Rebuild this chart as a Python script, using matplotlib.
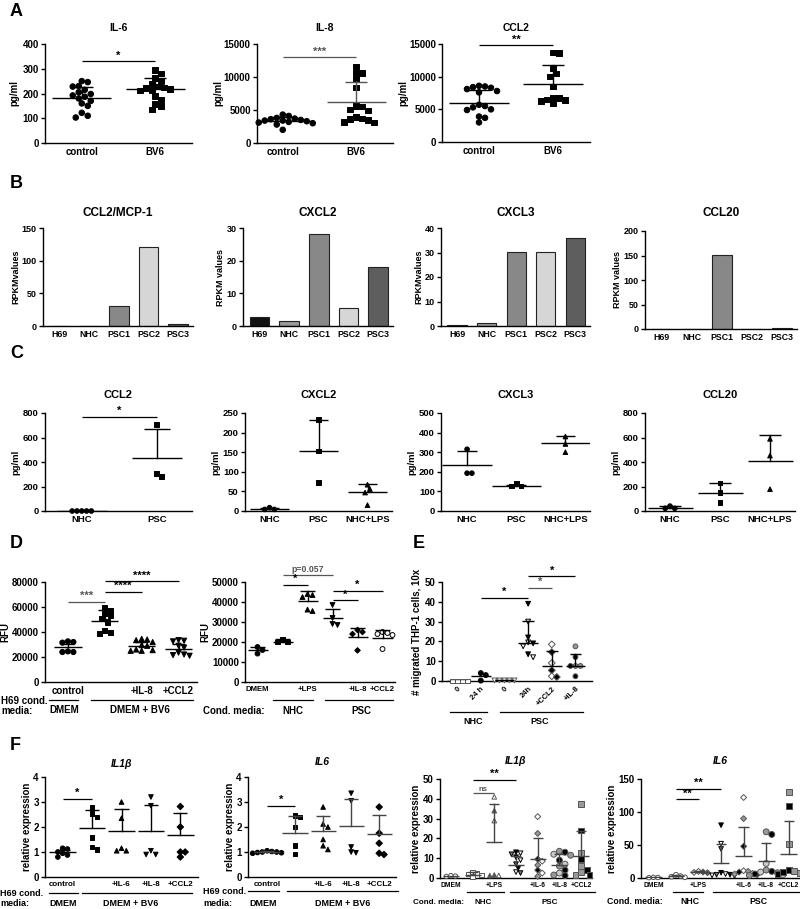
import numpy as np
import matplotlib
matplotlib.use('Agg')
import matplotlib.pyplot as plt
from matplotlib.lines import Line2D

# ---------------- data ----------------
# A: cytokines (pg/ml), H69 control vs BV6
a_labels = ['control', 'BV6']
il6_pts = [[250, 246, 230, 228, 215, 205, 198, 192, 187, 180, 170, 160, 150, 122, 110, 103],
           [295, 280, 262, 250, 240, 228, 225, 222, 218, 215, 212, 190, 175, 158, 150, 135]]
il6_mean = [180, 217]
il6_top = [225, 263]
il8_pts = [[4300, 4100, 3800, 3700, 3600, 3500, 3400, 3400, 3300, 3200, 3100, 3000, 2800, 2000],
           [11600, 10700, 10600, 9700, 8400, 5600, 5500, 5100, 4900, 3900, 3700, 3600, 3500, 3200, 3100]]
il8_mean = [3300, 6200]
il8_top = [3900, 9300]
ccl2_pts = [[8600, 8500, 8400, 8300, 8100, 7800, 7600, 5700, 5500, 5300, 5000, 4900, 3900, 3700, 3000],
            [13700, 13600, 11300, 10500, 10000, 8500, 6800, 6700, 6500, 6400, 6300, 5900]]
ccl2_mean = [6000, 8900]
ccl2_top = [7900, 11800]

# B: RPKM values
b_labels = ['H69', 'NHC', 'PSC1', 'PSC2', 'PSC3']
rpkm_ccl2 = [0, 0, 31, 121, 3]
rpkm_cxcl2 = [2.7, 1.5, 28.3, 5.5, 18.2]
rpkm_cxcl3 = [0.5, 1.2, 30.3, 30.3, 35.8]
rpkm_ccl20 = [0, 0, 152, 0.5, 2]

# C: secreted chemokines (pg/ml)
c_labels2 = ['NHC', 'PSC']
c_labels3 = ['NHC', 'PSC', 'NHC+LPS']
c_ccl2_pts = [[0, 0, 0, 0, 0], [705, 305, 280]]
c_ccl2_mean = [0, 430]
c_ccl2_top = [0, 670]
c_cxcl2_pts = [[8.5, 4, 4], [233, 153, 72], [67, 56, 47, 15]]
c_cxcl2_mean = [5.5, 153, 49]
c_cxcl2_top = [8, 233, 68]
c_cxcl3_pts = [[315, 193, 193], [140, 128, 128], [380, 342, 300]]
c_cxcl3_mean = [233, 130, 345]
c_cxcl3_top = [305, 135, 383]
c_ccl20_pts = [[40, 22, 22], [230, 150, 68], [589, 452, 178]]
c_ccl20_mean = [27, 148, 410]
c_ccl20_top = [41, 230, 620]

# D: RFU
d1_labels = ['control', '', '+IL-8', '+CCL2']
d1_pts = [[32500, 32000, 31500, 24500, 24000, 24000],
          [59500, 57500, 55000, 53000, 51000, 48000, 41000, 39500, 39000],
          [34500, 34000, 33500, 32000, 29500, 29000, 26000, 25500, 25000, 25000],
          [33500, 33000, 32500, 29000, 27500, 23500, 22000, 21500, 21000]]
d1_mean = [28000, 48800, 28500, 26400]
d1_top = [30500, 57300, 32000, 30700]
d2_labels = ['DMEM', '', '+LPS', '', '+IL-8', '+CCL2']
d2_pts = [[17500, 16000, 14200], [21500, 20000, 20000],
          [44000, 43500, 42500, 36200, 35500], [38500, 32000, 29000, 28500],
          [26000, 25000, 24000, 15800], [25000, 24500, 24000, 23500, 16500]]
d2_mean = [15800, 20000, 40500, 32200, 22500, 22200]
d2_top = [17500, 21500, 45500, 36500, 27200, 25800]

# E: migrated THP-1 cells
e_labels = ['0', '24 h', '0', '24h', '+CCL2', '+IL-8']
e_pts = [[0, 0, 0, 0], [4, 3, 0.2], [0.3, 0.3, 0.3, 0.3, 0.3],
         [39, 30, 22, 19.5, 19, 17.5, 13.5, 12], [18.5, 14.6, 9.1, 5.4, 2.4, 2],
         [17.5, 12.1, 7.6, 7.6, 7.6, 2.4]]
e_mean = [0, 2.4, 0.3, 19.2, 7.6, 7.6]
e_top = [0, 2.4, 0.3, 30.3, 15.2, 13.6]

# F: relative expression
f_labels = ['control', '', '+IL-6', '+IL-8', '+CCL2']
f1_pts = [[1.15, 1.12, 1.0, 0.95, 0.88, 0.8], [2.78, 2.55, 2.4, 1.58, 1.2, 1.1],
          [3.0, 2.35, 1.15, 1.05, 1.05], [3.2, 2.85, 1.05, 0.9, 0.9], [2.82, 2.0, 1.0, 1.0, 0.8]]
f1_mean = [1.0, 1.95, 1.84, 1.85, 1.7]
f1_top = [1.1, 2.7, 2.71, 2.88, 2.57]
f2_pts = [[1.05, 1.02, 1.0, 1.0, 0.98, 0.97, 0.95], [2.45, 2.4, 2.0, 1.25, 0.92],
          [2.8, 2.12, 2.0, 1.5, 1.25, 1.1], [3.35, 3.05, 1.2, 1.0, 0.97], [2.8, 1.75, 1.35, 0.95, 0.9]]
f2_mean = [1.0, 1.77, 1.84, 2.04, 1.72]
f2_top = [1.05, 2.44, 2.46, 3.14, 2.48]
g_labels = ['DMEM', '', '+LPS', '', '+IL-6', '+IL-8', '+CCL2']
f3_pts = [[1.2, 1.0, 0.8], [3.0, 2.5, 2.0, 1.5, 0.8], [41, 34, 29, 1.5, 1.3, 1.2],
          [13, 12.5, 12, 10.5, 9, 7, 5, 3, 2.5], [31, 22.5, 9.5, 8.5, 6.5, 4, 2.5, 0.8],
          [13.5, 13, 12, 11.5, 9, 7, 6, 4, 2.5, 1.5, 1.2], [37.5, 24, 12.5, 9.5, 6, 4, 3, 1.5, 1.5]]
f3_mean = [1.0, 1.7, 18.3, 6.7, 9.6, 6.4, 10.9]
f3_top = [1.0, 2.9, 37.2, 10.9, 20.1, 12.1, 23.5]
f4_pts = [[1, 0.8, 0.5], [5, 3, 2, 1], [10, 9, 8.5, 8], [80, 52, 44, 8, 6, 5, 5, 4, 3],
          [122, 90, 48, 11, 10, 9, 7, 6, 5], [70, 66, 22, 12, 10, 9, 8, 6, 5, 4],
          [130, 109, 52, 12, 10, 9, 7, 6, 5]]
f4_mean = [0.8, 2.5, 9, 23, 34, 25.4, 36.6]
f4_top = [0.8, 5, 10, 51, 77, 53, 86]

# ---------------- helpers ----------------
plt.rcParams['font.family'] = ['Liberation Sans', 'DejaVu Sans']
plt.rcParams['font.weight'] = 'bold'
plt.rcParams['axes.labelweight'] = 'bold'
plt.rcParams['axes.linewidth'] = 1.0

W, H = 800, 909
fig = plt.figure(figsize=(W / 100, H / 100), dpi=100)


def ax_px(l, t, r, b):
    ax = fig.add_axes([l / W, 1 - b / H, (r - l) / W, (b - t) / H])
    for s in ('top', 'right'):
        ax.spines[s].set_visible(False)
    ax.tick_params(axis='y', direction='out', length=3, width=1, pad=1.5)
    ax.tick_params(axis='x', length=0, pad=3)
    return ax


def ftext(x, y, s, **kw):
    kw.setdefault('fontweight', 'bold')
    fig.text(x / W, 1 - y / H, s, **kw)


def fline(x1, x2, y, color='k', lw=0.9):
    fig.add_artist(Line2D([x1 / W, x2 / W], [1 - y / H, 1 - y / H], color=color, lw=lw))


def title(ax, y, s, fs, **kw):
    p = ax.get_position()
    ftext((p.x0 + p.width / 2) * W, y, s, fontsize=fs, ha='center', va='center', **kw)


def setup(ax, xlim, ylim, yticks, labels, ylabel, fs=6.5, yfs=6.5, lp=2):
    ax.set_xlim(xlim)
    ax.set_ylim(ylim)
    ax.set_yticks(yticks)
    ax.set_xticks(range(len(labels)))
    ax.set_xticklabels(labels, fontsize=fs, fontweight='bold')
    ax.tick_params(axis='y', labelsize=yfs)
    ax.set_ylabel(ylabel, fontsize=yfs, labelpad=lp)


def swarm_offsets(ax, values, d_px):
    p = ax.get_position()
    x0, x1 = ax.get_xlim()
    y0, y1 = ax.get_ylim()
    sx = p.width * W / (x1 - x0)
    sy = p.height * H / (y1 - y0)
    step = d_px * 0.5
    cands = [0.0] + [sg * k * step for k in range(1, 40) for sg in (1, -1)]
    placed = []
    offs = np.zeros(len(values))
    for i in np.argsort(values)[::-1]:
        y = values[i] * sy
        for c in cands:
            if all((c - px) ** 2 + (y - py) ** 2 >= (d_px * 0.95) ** 2 for px, py in placed):
                break
        placed.append((c, y))
        offs[i] = c / sx
    return offs


def dots(ax, pts, means, tops, markers, fcs, ecs='k', size=14, d_px=5.5, mw=0.38, cw=0.16,
         lw=1.0, lc='k'):
    for i, vals in enumerate(pts):
        vals = np.asarray(vals, float)
        offs = swarm_offsets(ax, vals, d_px if np.isscalar(d_px) else d_px[i])
        fc = fcs[i] if isinstance(fcs, list) else fcs
        fc = [fc] if isinstance(fc, str) else list(fc)
        fc = [fc[k % len(fc)] for k in range(len(vals))]
        ec = ecs[i] if isinstance(ecs, list) else ecs
        sz = size[i] if isinstance(size, list) else size
        ax.scatter(i + offs, vals, marker=markers[i], s=sz, c=fc, edgecolors=ec,
                   linewidths=0.7, zorder=3, clip_on=False)
        col = lc[i] if isinstance(lc, list) else lc
        ax.plot([i - mw, i + mw], [means[i]] * 2, color=col, lw=lw, zorder=4, solid_capstyle='butt')
        if tops[i] > means[i]:
            ax.plot([i, i], [means[i], tops[i]], color=col, lw=lw, zorder=4)
            ax.plot([i - cw, i + cw], [tops[i]] * 2, color=col, lw=lw, zorder=4, solid_capstyle='butt')


def sig(ax, x1, x2, y, txt, color='k', fs=8, lw=0.9):
    ax.plot([x1, x2], [y, y], color=color, lw=lw, clip_on=False, solid_capstyle='butt')
    ax.annotate(txt, ((x1 + x2) / 2, y), xytext=(0, 0.5), textcoords='offset points',
                ha='center', va='bottom', fontsize=fs, color=color, annotation_clip=False)


# ---------------- A ----------------
ftext(10, 12, 'A', fontsize=13, va='center')
ax = ax_px(45, 44, 192, 143)
setup(ax, (-0.5, 1.5), (0, 400), [0, 100, 200, 300, 400], a_labels, 'pg/ml', fs=7, yfs=7)
dots(ax, il6_pts, il6_mean, il6_top, ['o', 's'], 'k', size=16, d_px=6, mw=0.4, cw=0.15)
sig(ax, 0, 1, 330, '*')
title(ax, 28, 'IL-6', 7.5)

ax = ax_px(257, 44, 393, 143)
setup(ax, (-0.35, 1.5), (0, 15000), [0, 5000, 10000, 15000], a_labels, 'pg/ml', fs=7, yfs=7, lp=0)
dots(ax, il8_pts, il8_mean, il8_top, ['o', 's'], 'k', size=16, d_px=6, mw=0.4, cw=0.15,
     lc=['k', '#555555'])
sig(ax, 0, 1, 13000, '***', color='#555555')
title(ax, 28, 'IL-8', 7.5)

ax = ax_px(442, 44, 590, 142)
setup(ax, (-0.5, 1.5), (0, 15000), [0, 5000, 10000, 15000], a_labels, 'pg/ml', fs=7, yfs=7, lp=0)
dots(ax, ccl2_pts, ccl2_mean, ccl2_top, ['o', 's'], 'k', size=16, d_px=6, mw=0.4, cw=0.15)
sig(ax, 0, 1, 14800, '**')
title(ax, 28, 'CCL2', 7.5)

# ---------------- B ----------------
ftext(10, 184, 'B', fontsize=13, va='center')
bar_cols = ['#111111', '#9a9a9a', '#888888', '#d6d6d6', '#5e5e5e']
b_specs = [((43, 228, 193, 326), rpkm_ccl2, (0, 150), [0, 50, 100, 150], 'RPKMvalues', 'CCL2/MCP-1'),
           ((243, 228, 393, 326), rpkm_cxcl2, (0, 30), [0, 10, 20, 30], 'RPKM values', 'CXCL2'),
           ((441, 228, 590, 326), rpkm_cxcl3, (0, 40), [0, 10, 20, 30, 40], 'RPKMvalues', 'CXCL3'),
           ((645, 231, 797, 329), rpkm_ccl20, (0, 200), [0, 50, 100, 150, 200], 'RPKM values', 'CCL20')]
for box, vals, yl, yt, ylab, ttl in b_specs:
    ax = ax_px(*box)
    setup(ax, (-0.55, 4.5), yl, yt, b_labels, ylab, fs=6.3, yfs=6.5, lp=1)
    ax.bar(range(len(vals)), vals, width=0.66, color=bar_cols, edgecolor='#222222', linewidth=0.8)
    title(ax, 213, ttl, 8.5)

# ---------------- C ----------------
ftext(10, 353, 'C', fontsize=13, va='center')
ax = ax_px(45, 413, 192, 511)
setup(ax, (-0.49, 1.47), (0, 800), [0, 200, 400, 600, 800], c_labels2, 'pg/ml', fs=6.8, yfs=6.8)
dots(ax, c_ccl2_pts, c_ccl2_mean, c_ccl2_top, ['o', 's'], 'k', size=11, d_px=4.8, mw=0.33, cw=0.17)
sig(ax, 0, 1, 770, '*')
title(ax, 395, 'CCL2', 8)

ax = ax_px(245, 413, 392, 511)
setup(ax, (-0.5, 2.5), (0, 250), [0, 50, 100, 150, 200, 250], c_labels3, 'pg/ml', fs=6.8, yfs=6.8)
dots(ax, c_cxcl2_pts, c_cxcl2_mean, c_cxcl2_top, ['o', 's', '^'], 'k', size=11, d_px=4.8,
     mw=0.4, cw=0.2)
title(ax, 395, 'CXCL2', 8)

ax = ax_px(441, 413, 590, 511)
setup(ax, (-0.53, 2.5), (0, 500), [0, 100, 200, 300, 400, 500], c_labels3, 'pg/ml', fs=6.8, yfs=6.8)
dots(ax, c_cxcl3_pts, c_cxcl3_mean, c_cxcl3_top, ['o', 's', '^'], 'k', size=11, d_px=4.8,
     mw=0.5, cw=0.2)
title(ax, 395, 'CXCL3', 8)

ax = ax_px(645, 413, 795, 511)
setup(ax, (-0.5, 2.5), (0, 800), [0, 200, 400, 600, 800], c_labels3, 'pg/ml', fs=6.8, yfs=6.8)
dots(ax, c_ccl20_pts, c_ccl20_mean, c_ccl20_top, ['o', 's', '^'], 'k', size=11, d_px=4.8,
     mw=0.45, cw=0.22)
title(ax, 395, 'CCL20', 8)

# ---------------- D ----------------
ftext(10, 543, 'D', fontsize=13, va='center')
ax = ax_px(45, 582, 197, 682)
setup(ax, (-0.62, 3.5), (0, 80000), [0, 20000, 40000, 60000, 80000], d1_labels, 'RFU', fs=7, yfs=7, lp=1)
dots(ax, d1_pts, d1_mean, d1_top, ['o', 's', '^', 'v'], 'k', size=14, d_px=5.5, mw=0.37, cw=0.17)
sig(ax, 0, 1, 64000, '***', color='#555555')
sig(ax, 1, 2, 72000, '****')
sig(ax, 1, 3, 80500, '****')
fline(49, 78, 700)
fline(91, 193, 700)
ftext(1, 701, 'H69 cond.', fontsize=7, va='center')
ftext(1, 711, 'media:', fontsize=7, va='center')
ftext(64, 710, 'DMEM', fontsize=7, ha='center', va='center')
ftext(140, 710, 'DMEM + BV6', fontsize=7, ha='center', va='center')

ax = ax_px(245, 582, 395, 682)
setup(ax, (-0.5, 5.5), (0, 50000), [0, 10000, 20000, 30000, 40000, 50000], d2_labels, 'RFU',
      fs=5.6, yfs=7, lp=1)
dots(ax, d2_pts, d2_mean, d2_top, ['o', 's', '^', 'v', 'D', 'o'],
     ['k', 'k', 'k', 'k', 'k', 'w'], size=[12, 12, 12, 12, 8, 12], d_px=5, mw=0.4, cw=0.3)
sig(ax, 1, 3, 53700, 'p=0.057', color='#555555', fs=6.3)
sig(ax, 1, 2, 48700, '*')
sig(ax, 3, 5, 45500, '*')
sig(ax, 3, 4, 40800, '*')
fline(273, 313, 700)
fline(325, 393, 700)
ftext(203, 711, 'Cond. media:', fontsize=7, va='center')
ftext(293, 711, 'NHC', fontsize=7, ha='center', va='center')
ftext(361, 711, 'PSC', fontsize=7, ha='center', va='center')

# ---------------- E ----------------
ftext(413, 543, 'E', fontsize=13, va='center')
ax = ax_px(442, 582, 592, 681)
setup(ax, (-0.64, 5.7), (0, 50), [0, 10, 20, 30, 40, 50], e_labels, '# migrated THP-1 cells, 10x',
      fs=5.5, yfs=7, lp=2)
for lab in ax.get_xticklabels():
    lab.set_rotation(45)
    lab.set_ha('right')
    lab.set_rotation_mode('anchor')
dots(ax, e_pts, e_mean, e_top, ['s', 'o', 'v', 'v', 'D', 'o'],
     ['w', 'k', 'w', ['k', 'w', 'k', 'w'], ['w', 'k', 'w', 'k'], ['#999999', 'k']],
     ecs=['#555555', 'k', '#555555', 'k', '#555555', '#555555'],
     size=12, d_px=5, mw=0.42, cw=0.25)
sig(ax, 1, 3, 42, '*')
sig(ax, 3, 4, 47, '*', color='#555555')
sig(ax, 3, 5, 53, '*')
fline(450, 487, 712)
fline(500, 583, 712)
ftext(473, 722, 'NHC', fontsize=6.5, ha='center', va='center')
ftext(540, 722, 'PSC', fontsize=6.5, ha='center', va='center')

# ---------------- F ----------------
ftext(10, 745, 'F', fontsize=13, va='center')
ax = ax_px(45, 777, 198, 877)
setup(ax, (-0.6, 4.6), (0, 4), [0, 1, 2, 3, 4], f_labels, 'relative expression', fs=5.8, yfs=7, lp=1)
dots(ax, f1_pts, f1_mean, f1_top, ['o', 's', '^', 'v', 'D'], 'k', size=11, d_px=4.8,
     mw=0.45, cw=0.24)
sig(ax, 0, 1, 3.13, '*')
title(ax, 764, 'IL1β', 7.5, style='italic')
fline(49, 78, 893)
fline(82, 192, 893)
ftext(0, 893, 'H69 cond.', fontsize=6.5, va='center')
ftext(0, 903, 'media:', fontsize=6.5, va='center')
ftext(63, 903, 'DMEM', fontsize=6.5, ha='center', va='center')
ftext(131, 903, 'DMEM + BV6', fontsize=6.5, ha='center', va='center')

ax = ax_px(248, 777, 396, 877)
setup(ax, (-0.68, 4.6), (0, 4), [0, 1, 2, 3, 4], f_labels, 'relative expression', fs=5.8, yfs=7, lp=1)
dots(ax, f2_pts, f2_mean, f2_top, ['o', 's', '^', 'v', 'D'], 'k', size=11, d_px=4.8,
     mw=0.45, cw=0.24, lc='#444444')
sig(ax, 0, 1, 2.85, '*')
title(ax, 762, 'IL6', 7.5, style='italic')
fline(248, 279, 891)
fline(287, 398, 891)
ftext(203, 892, 'H69 cond.', fontsize=6.5, va='center')
ftext(203, 903, 'media:', fontsize=6.5, va='center')
ftext(263, 903, 'DMEM', fontsize=6.5, ha='center', va='center')
ftext(343, 903, 'DMEM + BV6', fontsize=6.5, ha='center', va='center')

mix_f = ['w', ['w', '#555555'], ['k', 'w', '#777777'], ['w', '#999999', 'k'],
         ['#999999', 'k', '#cccccc'], ['#999999', 'k']]
ax = ax_px(440, 779, 592, 878)
setup(ax, (-0.5, 6.5), (0, 50), [0, 10, 20, 30, 40, 50], g_labels, 'relative expression',
      fs=4.8, yfs=7, lp=1)
dots(ax, f3_pts, f3_mean, f3_top, ['o', 's', '^', 'v', 'D', 'o', 's'], ['w'] + mix_f,
     ecs=['#555555', '#555555', '#555555', 'k', '#555555', '#555555', '#555555'],
     size=[10, 11, 11, 11, 9, 18, 18], d_px=[4.5, 4.5, 4.5, 4.5, 4.5, 5.6, 5.6],
     mw=0.37, cw=0.23, lc='#444444')
sig(ax, 1, 3, 49.5, '**')
sig(ax, 1, 2, 42.8, 'ns', color='#555555', fs=5.5)
title(ax, 761, 'IL1β', 7.5, style='italic')
fline(467, 504, 892)
fline(510, 595, 892)
ftext(413, 902, 'Cond. media:', fontsize=5.8, va='center')
ftext(483, 902, 'NHC', fontsize=5.8, ha='center', va='center')
ftext(550, 902, 'PSC', fontsize=5.8, ha='center', va='center')

ax = ax_px(641, 779, 800, 878)
setup(ax, (-0.55, 6.5), (0, 150), [0, 50, 100, 150], g_labels, 'relative expression',
      fs=4.8, yfs=7, lp=1)
dots(ax, f4_pts, f4_mean, f4_top, ['o', 'o', 'D', 'v', 'D', 'o', 's'], ['w'] + mix_f,
     ecs=['#555555', '#555555', '#555555', 'k', '#555555', '#555555', '#555555'],
     size=[10, 11, 9, 11, 9, 18, 18], d_px=[4.5, 4.5, 4.5, 4.5, 4.5, 5.6, 5.6],
     mw=0.37, cw=0.23, lc='#444444')
sig(ax, 1, 3, 135, '**')
sig(ax, 1, 2, 119.5, '**')
title(ax, 761, 'IL6', 7.5, style='italic')
fline(673, 703, 892)
fline(713, 800, 892)
ftext(607, 902, 'Cond. media:', fontsize=6.3, va='center')
ftext(690, 902, 'NHC', fontsize=6.3, ha='center', va='center')
ftext(758, 902, 'PSC', fontsize=6.3, ha='center', va='center')

fig.savefig('out.png', dpi=100)
